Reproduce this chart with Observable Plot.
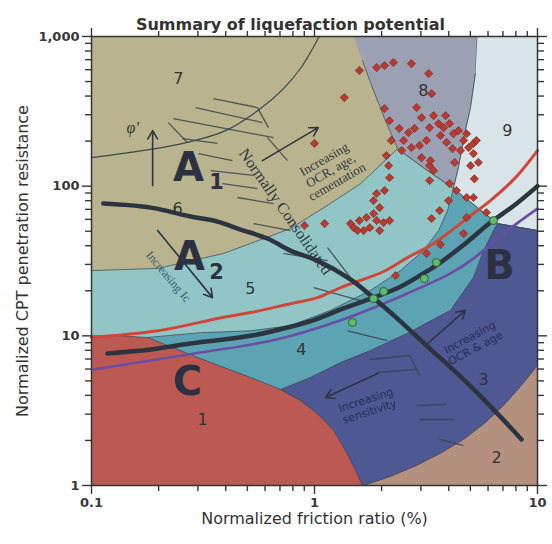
<!DOCTYPE html>
<html><head><meta charset="utf-8">
<script src="https://cdn.jsdelivr.net/npm/d3@7"></script>
<script src="https://cdn.jsdelivr.net/npm/@observablehq/plot@0.6"></script>
<style>body{margin:0;background:#fff}</style>
</head><body><div id="chart"></div>
<script>
// ---- tick values ----
const majorX = [0.1, 1, 10];
const minorX = [0.2,0.3,0.4,0.5,0.6,0.7,0.8,0.9,2,3,4,5,6,7,8,9];
const majorY = [1, 10, 100, 1000];
const minorY = [2,3,4,5,6,7,8,9,20,30,40,50,60,70,80,90,200,300,400,500,600,700,800,900];

// ---- zone outlines [Fr %, Q] ----
const zone5 = [[0.1,27.3],[0.198,28.2],[0.391,35.5],[0.516,41.4],[0.78,52.1],[1.14,74.2],[1.61,104],[2.36,178],[3.08,133],[4.2,96.4],[10,96.4],[10,1],[0.1,1]];
const zone8 = [[1.5,1000],[5.38,1000],[5.27,565],[5.01,335],[4.75,235],[4.42,133],[4.2,96.4],[3.08,133],[2.36,178],[2.08,274],[1.84,435],[1.64,690]];
const zone9 = [[5.38,1000],[10,1000],[10,50.5],[6.62,56.2],[4.2,96.4],[4.42,133],[4.75,235],[5.01,335],[5.27,565]];
const zone4 = [[0.178,9.75],[0.308,10.5],[0.516,10.8],[0.78,11.7],[1.18,14.8],[1.78,20.1],[2.43,27.3],[3.08,37.1],[3.6,50.5],[3.95,68.7],[4.2,96.4],[6.62,56.2],[10,50.5],[10,1],[0.178,1]];
const zone3 = [[0.704,4.38],[0.959,5.27],[1.31,6.63],[1.78,7.98],[2.61,10.4],[4.07,14.8],[5.16,24.5],[5.73,37.1],[6.35,50.5],[6.62,56.2],[10,50.5],[10,1],[0.704,1]];
const zone2 = [[1.66,1],[2.19,1.15],[2.87,1.36],[3.67,1.64],[4.66,2.03],[5.85,2.64],[7.04,3.42],[8.39,4.59],[10,6.33],[10,1]];
const zone1 = [[0.1,10],[0.135,10],[0.178,9.75],[0.308,7.05],[0.516,5.27],[0.704,4.38],[0.865,3.7],[1.04,2.98],[1.22,2.33],[1.38,1.71],[1.53,1.26],[1.64,1],[0.1,1]];
const line67 = [[0.1,155],[0.184,176],[0.269,196],[0.399,235],[0.573,330],[0.726,449],[0.865,611],[1.05,1000]];

// ---- overlay curves ----
const redLine = [[0.1,9.75],[0.198,10.8],[0.391,13.3],[0.516,14.3],[0.78,16.4],[1.03,18.0],[1.31,21.0],[2.04,26.9],[2.61,33.3],[3.42,41.4],[5.16,65.6],[6.15,80.1],[7.96,114],[10,173]];
const blackRise = [[0.118,7.62],[0.184,8.1],[0.278,8.88],[0.516,10.0],[0.78,11.5],[1.03,13.0],[1.31,15.0],[1.84,18.0],[2.43,21.3],[3.08,26.1],[3.56,29.9],[4.75,41.4],[6.15,57.1],[7.96,75.4],[10,100]];
const purpleLine = [[0.102,5.96],[0.184,6.84],[0.308,7.73],[0.676,9.44],[1.31,12.7],[2.61,19.2],[4.07,26.1],[5.16,32.8],[7.33,50.5],[10,70.8]];
const blackFall = [[0.113,76.5],[0.184,71.9],[0.278,62.7],[0.367,58.0],[0.466,51.3],[0.615,44.7],[0.78,37.1],[1.03,31.8],[1.45,23.8],[2.04,15.7],[2.43,12.5],[3.18,8.61],[4.66,5.11],[6.55,3.07],[8.48,2.03]];

// ---- points ----
const greenFr = [1.48,1.84,2.04,3.11,3.52,6.35];
const greenQ  = [12.3,17.7,19.8,24.1,30.9,58.9];
const diamondFr = [1.36,1.59,1.90,2.06,2.26,2.72,3.25,3.35,1.00,2.06,2.17,2.40,2.64,2.81,2.87,3.02,3.28,3.42,3.60,3.79,4.03,4.20,4.42,4.66,4.81,4.91,5.16,5.16,5.32,5.43,2.51,2.72,2.96,2.46,2.21,2.10,2.15,2.17,3.02,3.28,3.42,3.28,4.25,4.03,4.33,5.21,4.81,5.16,3.99,3.64,3.35,5.90,4.81,4.66,3.67,3.18,2.31,2.06,1.90,1.84,1.96,1.84,1.71,1.59,1.50,1.90,2.04,2.17,1.96,1.77,1.66,1.56,1.45,0.902,1.11,3.67,3.91,4.16,4.52,3.87,3.18,5.01,3.31];
const diamondQ  = [391,592,620,640,670,659,565,415,193,330,274,243,228,243,335,287,246,296,262,246,262,224,235,202,224,181,193,165,202,144,202,181,187,173,202,160,137,114,155,137,127,109,144,104,93.5,112,84.0,84.0,80.1,68.7,60.8,66.7,61.7,48.2,40.7,35.5,25.3,93.5,89.3,80.1,71.9,65.6,61.7,58.9,52.8,58.9,57.1,58.9,50.5,52.8,50.5,50.5,56.2,54.6,56.2,218,196,178,173,296,202,137,148];

// ---- hatching & arrows ----
const hatchFr1 = [0.352,0.293,0.233,0.555,0.221,0.256,0.615,0.302,0.342,0.387,0.451,0.533,0.726,1.143,0.990,1.41,1.77,2.67,1.90,2.87,2.96,3.64];
const hatchQ1  = [385,335,283,335,266,208,211,165,127,104,84.0,56.2,35.5,38.9,21.0,10.8,6.95,7.39,5.69,3.42,2.76,2.03];
const hatchFr2 = [0.555,0.584,0.655,0.622,0.269,0.367,0.757,0.429,0.533,0.555,0.655,0.780,1.143,1.45,1.61,2.12,2.67,2.96,2.87,3.91,4.20,4.66];
const hatchQ2  = [335,266,211,246,196,193,148,148,118,96.4,76.5,50.5,31.8,24.5,17.2,9.30,7.39,5.43,5.96,3.48,2.76,1.85];
const arrowFr1 = [0.188,0.198,0.584,1.92,3.21];
const arrowQ1  = [101,50.5,148,5.60,8.88];
const arrowFr2 = [0.188,0.349,1.04,1.12,4.75];
const arrowQ2  = [235,18.0,246,3.87,14.8];

// ---- labels ----
const zoneNumText = ["7","6","5","4","3","2","1","8","9"];
const zoneNumFr = [0.245,0.243,0.516,0.874,5.73,6.55,0.315,3.08,7.33];
const zoneNumQ  = [523,70.8,20.7,8.10,5.11,1.54,2.76,435,235];
const bigText = ["A","A","C","B"];
const bigFr = [0.272,0.275,0.269,6.75];
const bigQ  = [131,33.3,4.88,29.0];
const subText = ["1","2"];
const subFr = [0.364,0.364];
const subQ  = [106,26.5];
const title = "Summary of liquefaction potential";
const xLabel = "Normalized friction ratio (%)";
const yLabel = "Normalized CPT penetration resistance";

const pts = (a) => a.map(([f, q]) => ({f, q}));
const zip = (fr, q, extra) => fr.map((f, i) => ({f, q: q[i], t: extra ? extra[i] : null}));
const segs = hatchFr1.map((f, i) => ({x1: f, y1: hatchQ1[i], x2: hatchFr2[i], y2: hatchQ2[i]}));
const arrows = arrowFr1.map((f, i) => ({x1: f, y1: arrowQ1[i], x2: arrowFr2[i], y2: arrowQ2[i]}));

const zones = [
  [zone5, "#92c6c6"], [zone8, "#9ba0b3"], [zone9, "#d8e4e8"],
  [zone4, "#5ca3b3"], [zone3, "#4e5893"], [zone2, "#b4917e"], [zone1, "#bc5953"]
];
const ink = "#2e3540";
const serif = "Liberation Serif, DejaVu Serif, serif";

const chart = Plot.plot({
  width: 552, height: 544,
  marginLeft: 91, marginRight: 15, marginTop: 36, marginBottom: 59,
  style: {fontFamily: "DejaVu Sans, sans-serif", background: "#fff", color: "#333"},
  x: {type: "log", domain: [0.1, 10], axis: null},
  y: {type: "log", domain: [1, 1000], axis: null},
  marks: [
    Plot.frame({fill: "#b9b48d"}),
    ...zones.map(([z, c]) => Plot.line(pts(z), {x: "f", y: "q", fill: c, stroke: "#38434d", strokeWidth: 1, strokeOpacity: 0.7})),
    Plot.line(pts(line67), {x: "f", y: "q", curve: "catmull-rom", stroke: "#3a4550", strokeWidth: 1.2}),
    Plot.link(segs, {x1: "x1", y1: "y1", x2: "x2", y2: "y2", stroke: "#39434d", strokeWidth: 1.3, strokeOpacity: 0.85}),
    Plot.arrow(arrows, {x1: "x1", y1: "y1", x2: "x2", y2: "y2", stroke: ink, strokeWidth: 1.6, headLength: 9}),
    Plot.text(zip(zoneNumFr, zoneNumQ, zoneNumText), {x: "f", y: "q", text: "t", fontSize: 16, fill: "#333"}),
    Plot.text(zip(bigFr, bigQ, bigText), {x: "f", y: "q", text: "t", fontSize: 40, fontWeight: "bold", fill: "#2b3140"}),
    Plot.text(zip(subFr, subQ, subText), {x: "f", y: "q", text: "t", fontSize: 21, fontWeight: "bold", fill: "#2b3140"}),
    Plot.text(["φ'"], {x: 0.153, y: 246, fontSize: 16, fontStyle: "italic", fontFamily: serif, fill: "#333"}),
    Plot.text(["Increasing\nOCR, age,\ncementation"], {x: 1.18, y: 127, rotate: -30, fontSize: 13, fontFamily: serif, fill: ink, lineHeight: 1.0}),
    Plot.text(["Normally Consolidated"], {x: 0.741, y: 67.6, rotate: 55, fontSize: 16, fontFamily: serif, fill: ink}),
    Plot.text(["Increasing Ic"], {x: 0.221, y: 24.9, rotate: 50, fontSize: 12, fontFamily: serif, fill: "#35606e"}),
    Plot.text(["Increasing\nsensitivity"], {x: 1.73, y: 3.42, rotate: -18, fontSize: 11, fill: "#262c55", lineHeight: 1.1}),
    Plot.text(["Increasing\nOCR & age"], {x: 5.11, y: 9.02, rotate: -28, fontSize: 11, fill: "#262c55", lineHeight: 1.1}),
    Plot.line(pts(purpleLine), {x: "f", y: "q", curve: "catmull-rom", stroke: "#6a4ea6", strokeWidth: 2.6}),
    Plot.line(pts(redLine), {x: "f", y: "q", curve: "catmull-rom", stroke: "#d2453a", strokeWidth: 3}),
    Plot.line(pts(blackRise), {x: "f", y: "q", curve: "catmull-rom", stroke: "#2c343f", strokeWidth: 4.5}),
    Plot.line(pts(blackFall), {x: "f", y: "q", curve: "catmull-rom", stroke: "#2c343f", strokeWidth: 4.5}),
    Plot.dot(zip(diamondFr, diamondQ), {x: "f", y: "q", symbol: "diamond2", r: 3.7, fill: "#b93a30", stroke: "#6e2019", strokeWidth: 0.6}),
    Plot.dot(zip(greenFr, greenQ), {x: "f", y: "q", r: 4, fill: "#62bb68", stroke: "#2f5f3a", strokeWidth: 1}),
    Plot.frame({stroke: "#333", strokeWidth: 1.5}),
    Plot.axisX({ticks: majorX, anchor: "bottom", tickSize: 9, tickFormat: d => String(d), fontSize: 13, fontWeight: "bold", color: "#383838", strokeWidth: 1.4, label: null}),
    Plot.axisX({ticks: minorX, anchor: "bottom", tickSize: 6, tickFormat: () => "", strokeWidth: 1.4, color: "#383838", label: null}),
    Plot.axisX({ticks: majorX, anchor: "top", tickSize: 9, tickFormat: () => "", strokeWidth: 1.4, color: "#383838", label: null}),
    Plot.axisX({ticks: minorX, anchor: "top", tickSize: 6, tickFormat: () => "", strokeWidth: 1.4, color: "#383838", label: null}),
    Plot.axisY({ticks: majorY, anchor: "left", tickSize: 9, tickFormat: d3.format(","), fontSize: 13, fontWeight: "bold", color: "#383838", strokeWidth: 1.4, label: null}),
    Plot.axisY({ticks: minorY, anchor: "left", tickSize: 6, tickFormat: () => "", strokeWidth: 1.4, color: "#383838", label: null}),
    Plot.axisY({ticks: majorY, anchor: "right", tickSize: 9, tickFormat: () => "", strokeWidth: 1.4, color: "#383838", label: null}),
    Plot.axisY({ticks: minorY, anchor: "right", tickSize: 6, tickFormat: () => "", strokeWidth: 1.4, color: "#383838", label: null}),
    Plot.text([title], {frameAnchor: "top", dx: -24, dy: -18, fontSize: 16, fontWeight: "bold", fill: "#333"}),
    Plot.text([xLabel], {frameAnchor: "bottom", dy: 38, fontSize: 16, fill: "#333"}),
    Plot.text([yLabel], {frameAnchor: "left", textAnchor: "middle", dx: -69, rotate: -90, fontSize: 16, fill: "#333"})
  ]
});
document.getElementById("chart").append(chart);
</script></body></html>
